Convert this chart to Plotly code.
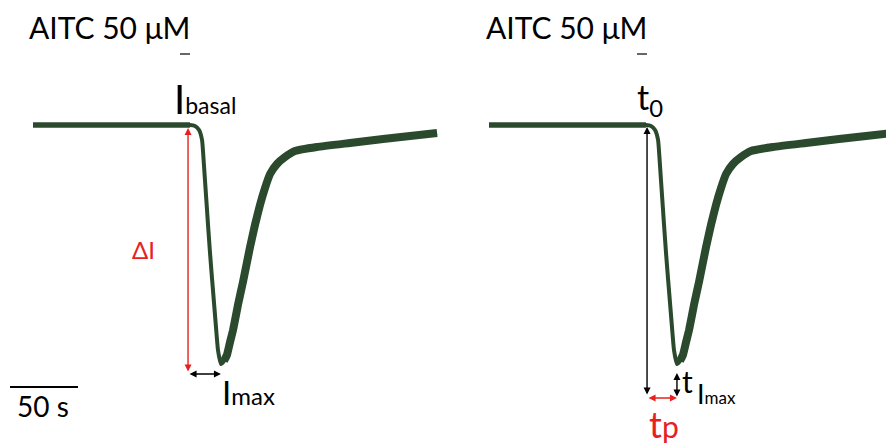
import plotly.graph_objects as go
import numpy as np

# ---- data ----
# time since start of recording (s) and membrane current (arbitrary units, baseline = 0)
time_s = [0, 49.3, 93.4, 115.4, 119.1, 122.1, 124.3, 125.7, 127.2, 128.7, 130.1,
          131.6, 133.1, 134.6, 136.0, 138.2, 140.4, 142.6, 144.9, 147.1, 150.7,
          154.4, 159.6, 163.2, 166.9, 170.6, 174.3, 179.4, 185.3, 192.6, 208.8,
          233.1, 257.4, 277.2, 297.1]
current = [0, 0, 0, 0, -1, -5, -15, -40, -70, -100, -127,
           -153, -178, -203, -225, -239, -236, -230, -217, -205, -180,
           -157, -122, -100, -80, -63, -49, -39, -32, -26, -22,
           -18, -14, -11, -8]
right_offset_s = 335.3          # second panel drawn after the first
scale_bar_s = 50
title_text = "AITC 50 \u03bcM"

trace_color = "#2b4a2d"
FONT = "Lato"
W, H = 886, 446
PX_PER_S = 1.36
X0 = 33  # px where recording starts

def X(px):
    return px / W

def Y(py):
    return 1 - py / H

t = np.array(time_s)
c = np.array(current)
imin = int(np.argmin(c))
t_min = t[imin]
c_min = c[imin]
c_base = c[0]
ion = 4  # last baseline sample

fig = go.Figure()
for off in (0, right_offset_s):
    fig.add_trace(go.Scatter(x=t + off, y=c, mode="lines",
                             line=dict(color=trace_color, width=4, shape="spline", smoothing=0.4),
                             hoverinfo="skip", showlegend=False))
    fig.add_trace(go.Scatter(x=t[:ion] + off, y=c[:ion], mode="lines",
                             line=dict(color=trace_color, width=5.5),
                             hoverinfo="skip", showlegend=False))
    fig.add_trace(go.Scatter(x=t[imin + 1:] + off, y=c[imin + 1:], mode="lines",
                             line=dict(color=trace_color, width=8, shape="spline", smoothing=0.4),
                             hoverinfo="skip", showlegend=False))

def arrow(x, y, ax, ay, color):
    fig.add_annotation(x=x, y=y, ax=ax, ay=ay, xref="x", yref="y", axref="x", ayref="y",
                       text="", showarrow=True, arrowhead=2, startarrowhead=2,
                       arrowside="end+start", arrowcolor=color, arrowwidth=1.4,
                       arrowsize=1, startarrowsize=1, standoff=0, startstandoff=0)

# left panel arrows
x_on = 114.0
arrow(x_on, c_base - 3, x_on, c_min - 9, "#e8211f")
arrow(t_min, c_min - 10, x_on, c_min - 10, "black")
# right panel arrows
x_on_r = 116.2 + right_offset_s
arrow(x_on_r, c_base - 2, x_on_r, c_min - 32, "black")
arrow(t_min + right_offset_s, c_min - 34, x_on_r, c_min - 34, "#e8211f")
arrow(t_min + right_offset_s, c_min - 9, t_min + right_offset_s, c_min - 34, "black")

def label(px, py, text, size, color="black"):
    fig.add_annotation(x=X(px), y=Y(py), xref="paper", yref="paper", text=text,
                       showarrow=False, xanchor="left", yanchor="middle",
                       font=dict(family=FONT, size=size, color=color))

label(27, 27, title_text, 30)
label(484, 27, title_text, 30)
label(172, 99, "I<span style='font-size:23px'>basal</span>", 40)
label(130, 250, "\u0394I", 24, "#e8211f")
label(220, 392, "I<span style='font-size:24px'>max</span>", 33)
label(15, 406, f"{scale_bar_s} s", 28)
label(635, 99, "t<sub>0</sub>", 34)
label(647, 424, "t<span style='font-size:30px'>p</span>", 36, "#e8211f")
label(680, 381, "t", 30)
label(695, 393, "I<span style='font-size:17px'>max</span>", 27)

# stimulus dashes under the titles
for x1 in (180, 637):
    fig.add_shape(type="line", xref="paper", yref="paper", x0=X(x1), x1=X(x1 + 10),
                  y0=Y(54), y1=Y(54), line=dict(color="black", width=1.2))

# scale bar: 50 s
fig.add_shape(type="line", xref="x", yref="y",
              x0=(10 - X0) / PX_PER_S, x1=(10 - X0) / PX_PER_S + scale_bar_s,
              y0=125 - 387, y1=125 - 387, line=dict(color="black", width=2))

fig.update_xaxes(range=[-X0 / PX_PER_S, (W - X0) / PX_PER_S], visible=False)
fig.update_yaxes(range=[125 - H, 125], visible=False)
fig.update_layout(width=W, height=H, margin=dict(l=0, r=0, t=0, b=0),
                  paper_bgcolor="white", plot_bgcolor="white", showlegend=False)

fig.write_html("out.html")
